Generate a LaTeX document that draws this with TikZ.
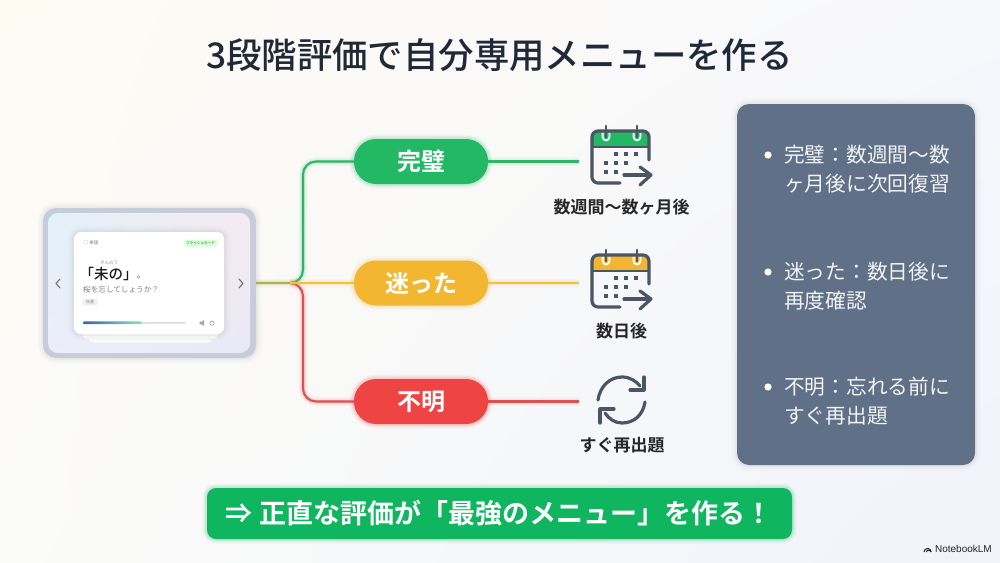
\documentclass[tikz,border=0pt]{standalone}
\usepackage{fontspec}
\setmainfont{Noto Sans CJK JP}[BoldFont=* Bold]
\newfontfamily\medf{Noto Sans CJK JP Medium}
\newfontfamily\latf{Liberation Sans}
\usetikzlibrary{calc,shadings}
\definecolor{cgreen}{HTML}{22B864}
\definecolor{cyellow}{HTML}{F2B631}
\definecolor{cred}{HTML}{EF4444}
\definecolor{lgreen}{HTML}{2FB566}
\definecolor{lyellow}{HTML}{F4C043}
\definecolor{lred}{HTML}{DC5050}
\definecolor{iconc}{HTML}{4B5563}
\definecolor{panelc}{HTML}{5F7087}
\definecolor{inkc}{HTML}{1F2937}
\definecolor{bannerc}{HTML}{10B55F}
\definecolor{bgtl}{HTML}{FEFBF3}
\definecolor{bgtr}{HTML}{F7F8FC}
\definecolor{bgbl}{HTML}{FBFBF9}
\definecolor{bgbr}{HTML}{F0F3FA}
\definecolor{devc}{HTML}{C6CCD9}
\definecolor{screentl}{HTML}{E2F1F8}
\definecolor{screentr}{HTML}{F5EAF0}
\definecolor{screenbl}{HTML}{ECEEF8}
\definecolor{screenbr}{HTML}{E9E9F6}
\definecolor{progl}{HTML}{3F60A8}
\definecolor{progr}{HTML}{86E3C1}
\definecolor{stubc}{HTML}{A9B54A}
\newcommand{\fsz}[1]{\fontsize{#1}{#1}\selectfont}
\tikzset{
  glow/.style={preaction={draw=#1,line width=9pt,draw opacity=.05},
               preaction={draw=#1,line width=6pt,draw opacity=.08},
               preaction={draw=#1,line width=3.5pt,draw opacity=.12}},
  softshadow/.style={preaction={draw=#1,line width=12pt,draw opacity=.012},
               preaction={draw=#1,line width=8pt,draw opacity=.018},
               preaction={draw=#1,line width=4pt,draw opacity=.03}},
  pillbox/.style={minimum width=134pt,minimum height=45pt,rounded corners=22pt,inner sep=0pt,
      fill=#1,glow=#1,text=white,font=\fsz{24}\bfseries},
  branch/.style={draw=#1,line width=2.1pt,rounded corners=13pt,glow=#1},
  lead/.style={draw=#1,line width=2.1pt,glow=#1},
  iconline/.style={draw=iconc,line width=3.2pt,line cap=round,line join=round},
  iconlabel/.style={text=black!85,font=\fsz{17}\bfseries,inner sep=0pt},
  paneltext/.style={text=white!92!panelc,font=\fsz{20.7},align=left,anchor=west,inner sep=0pt},
  cardtext/.style={inner sep=0pt},
}
\newcommand{\calicon}[3]{%
\begin{scope}[shift={(#1,#2)}]
  \fill[#3] (0,16) -- (0,6) arc[start angle=180,end angle=270,radius=6] -- (51,0) arc[start angle=270,end angle=360,radius=6] -- (57,16) -- cycle;
  \draw[white,line width=1.8pt] (10.6,1.5) -- (10.6,6) arc[start angle=180,end angle=0,radius=3.4] -- (17.4,1.5);
  \draw[white,line width=1.8pt] (41.6,1.5) -- (41.6,6) arc[start angle=180,end angle=0,radius=3.4] -- (48.4,1.5);
  \draw[iconline] (28,52) -- (6,52) arc[start angle=90,end angle=180,radius=6] -- (0,6) arc[start angle=180,end angle=270,radius=6] -- (51,0) arc[start angle=270,end angle=360,radius=6] -- (57,29);
  \draw[iconline,line width=2.4pt,line cap=butt] (0,16) -- (57,16);
  \draw[iconline,line width=2.8pt] (14,-5) -- (14,6);
  \draw[iconline,line width=2.8pt] (45,-5) -- (45,6);
  \foreach \a/\b in {24/23,34/23,44/23,14/32,24/32,34/32,14/41,24/41}
    \fill[iconc] (\a-2.2,\b-1.9) rectangle (\a+2.2,\b+1.9);
  \draw[iconline] (32,44) -- (58,44);
  \draw[iconline] (48,36) -- (59,44) -- (48,54);
\end{scope}}
\begin{document}
\begin{tikzpicture}[x=1pt,y=-1pt]
\useasboundingbox (0,0) rectangle (1000,562);
\shade[upper left=bgtl,upper right=bgtr,lower left=bgbl,lower right=bgbr]
  (0,0) rectangle (1000,562);

% title
\node[text=inkc,inner sep=0pt] (title) at (499.5,55) {\medf\fsz{35.4}3段階評価で自分専用メニューを作る};

% device
\node[minimum width=213pt,minimum height=150pt,rounded corners=13pt,inner sep=0pt,fill=devc,softshadow=black] (dev) at (149.5,283) {};
\shade[rounded corners=10pt,upper left=screentl,upper right=screentr,lower left=screenbl,lower right=screenbr] (48,213) rectangle (250,353);
\draw[black!55,line width=1.1pt,line cap=round,line join=round] (60,279) -- (56,283.5) -- (60,288);
\draw[black!55,line width=1.1pt,line cap=round,line join=round] (239,279) -- (243,283.5) -- (239,288);
% card stack
\filldraw[rounded corners=4pt,fill=black!2,draw=black!8] (88,320) rectangle (212,343);
\filldraw[rounded corners=4pt,fill=black!1,draw=black!8] (82,320) rectangle (218,339);
\node[minimum width=150pt,minimum height=102pt,rounded corners=7pt,inner sep=0pt,fill=white,softshadow=black] (card) at (149,283) {};
\node[cardtext,text=black!50,font=\fsz{4.5}] (cat) at (91,243) {□ 単語};
\node[cardtext,fill=green!15!white,rounded corners=2pt,minimum width=33pt,minimum height=7pt,text=green!45!black,font=\fsz{3.6}] (tag) at (200.5,243) {フラッシュカード};
\node[cardtext,text=black!45,font=\fsz{4.5}] (ruby) at (109,263) {きんのう};
\node[cardtext,text=black!90] (word) at (108.5,274) {\medf\fsz{14.5}「未の」};
\node[cardtext,draw=black!50,circle,minimum size=2.6pt,line width=.4pt] (dot) at (138.5,277) {};
\node[cardtext,text=black!50,font=\fsz{7.6},anchor=west] (question) at (83,289.5) {桜を忘してしょうか？};
\node[cardtext,fill=black!6,rounded corners=2pt,minimum width=15pt,minimum height=7pt,text=black!50,font=\fsz{4}] (chip) at (90,302) {任意};
\fill[black!12,rounded corners=1pt] (142,321.8) rectangle (186,323.8);
\shade[left color=progl,right color=progr,rounded corners=1pt] (83,321.4) rectangle (142,324.2);
\fill[black!35] (199.5,321.7) rectangle (201.5,324.3) (201.5,321.7) -- (204,320) -- (204,326) -- (201.5,324.3) -- cycle;
\draw[black!35,line width=.7pt] (212,323.2) circle[radius=2.1];

% pills
\coordinate (trunkA) at (303,283);
\coordinate (trunkB) at (303,283);
\coordinate (stub) at (290,283);
\node[pillbox=cgreen] (p1) at (421,161.5) {完璧};
\node[pillbox=cyellow] (p2) at (421,283) {迷った};
\node[pillbox=cred] (p3) at (421,401.5) {不明};
\coordinate (e1) at (579,161.5);
\coordinate (e2) at (579,283);
\coordinate (e3) at (579,401.5);

% connectors
\draw[branch=lred] (stub) -- (trunkB) |- (p3.west);
\draw[branch=lgreen] (stub) -- (trunkA) |- (p1.west);
\draw[lead=lyellow] (stub) -- (p2.west);
\draw[lead=stubc] (dev.east) -- (stub);
\draw[lead=lgreen] (p1.east) -- (e1);
\draw[lead=lyellow] (p2.east) -- (e2);
\draw[lead=lred] (p3.east) -- (e3);

% icons
\calicon{592}{131}{cgreen}
\node[iconlabel] (l1) at (621.5,207) {数週間〜数ヶ月後};
\calicon{592}{255}{cyellow}
\node[iconlabel] (l2) at (621.5,331) {数日後};
\draw[iconline] (598,400) .. controls (600,386) and (610,377) .. (622,377) .. controls (630,377) and (636,381) .. (640,386);
\draw[iconline] (645,402) .. controls (643,415) and (634,423) .. (622,423) .. controls (615,423) and (609,419) .. (605,413);
\draw[iconline] (644,377) -- (644,390) -- (630,390);
\draw[iconline] (600,423) -- (600,409) -- (614,409);
\node[iconlabel] (l3) at (622,445) {すぐ再出題};

% side panel
\node[minimum width=238pt,minimum height=361pt,rounded corners=12pt,inner sep=0pt,fill=panelc,softshadow=black] (panel) at (856,284.5) {};
\foreach \y in {155,272,387} \fill[white] (768,\y) circle[radius=3.6];
\node[paneltext] (t1) at (784,169.5) {完璧：数週間〜数\\[8.4pt]ヶ月後に次回復習};
\node[paneltext] (t2) at (784,286.5) {迷った：数日後に\\[8.4pt]再度確認};
\node[paneltext] (t3) at (784,401.5) {不明：忘れる前に\\[8.4pt]すぐ再出題};

% banner
\node[minimum width=585pt,minimum height=51pt,rounded corners=9pt,inner sep=0pt,fill=bannerc,glow=bannerc] (banner) at (499.5,513.5) {};
\node[inner sep=0pt,text=white,font=\fsz{27}\bfseries] (bannertext) at (499,513.5) {⇒ 正直な評価が「最強のメニュー」を作る！};

% brand
\node[inner sep=0pt,anchor=east,text=black!85,font=\latf\fsz{10}] (brand) at (992,548.5) {NotebookLM};
\draw[black!85,line width=1pt] (924,552) arc[start angle=180,end angle=360,radius=3.6];
\draw[black!85,line width=1pt] (926.5,552) arc[start angle=180,end angle=360,radius=2];
\end{tikzpicture}
\end{document}
